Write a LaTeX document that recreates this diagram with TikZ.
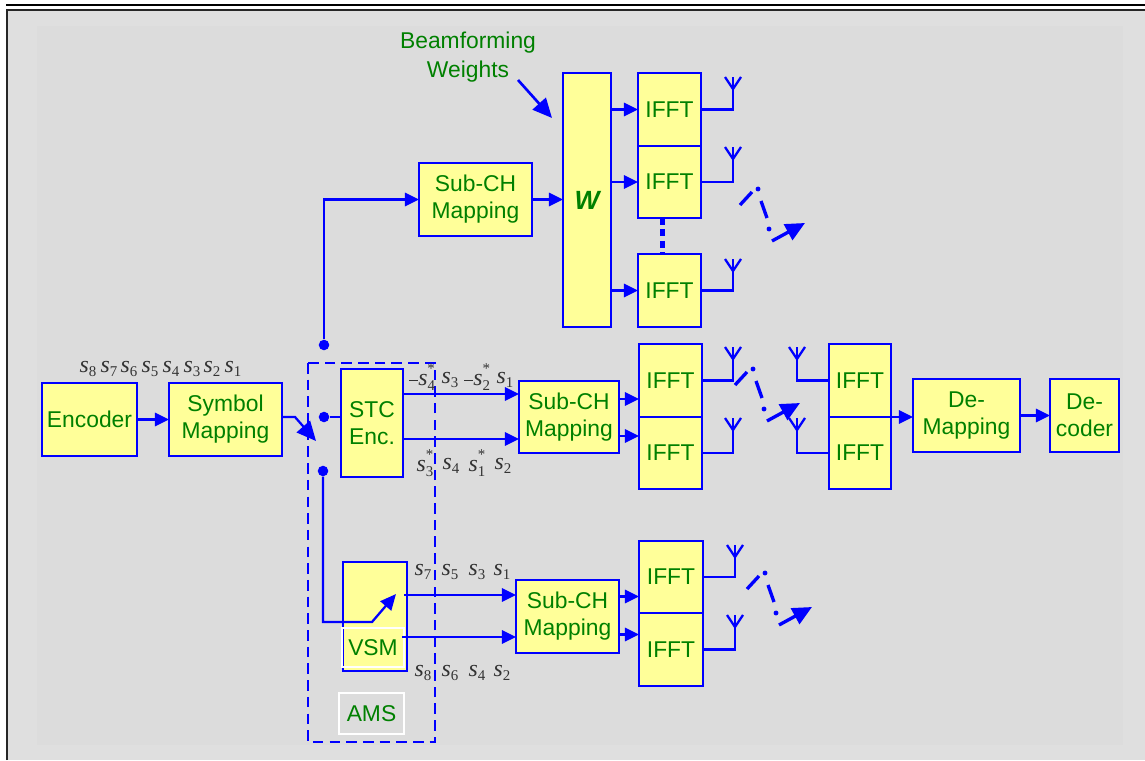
\documentclass[tikz,border=0pt]{standalone}
\usepackage{fontspec}
\setmainfont{Liberation Sans}
\newfontfamily\labfont{Liberation Serif}
\usetikzlibrary{arrows.meta,positioning}

\definecolor{cBlue}{RGB}{0,0,255}
\definecolor{cFill}{RGB}{255,255,153}
\definecolor{cText}{RGB}{0,128,0}
\definecolor{cBack}{RGB}{223,223,223}
\definecolor{cInner}{RGB}{220,220,220}
\newcommand{\boxfont}{\fontsize{13}{15.3}\selectfont}
\newcommand{\subfnt}{\fontsize{8.5}{9}\selectfont\upshape}
\newcommand{\sv}[1]{\textit{s}\raisebox{-2.4pt}{\subfnt #1}}
\newcommand{\svs}[1]{\textit{s}\raisebox{-2.4pt}{\subfnt #1}\kern-4.3pt\raisebox{7pt}{\subfnt *}}
\newcommand{\ms}{\rule[3pt]{5pt}{0.6pt}\kern0.3pt}

\tikzset{
  blk/.style={draw=cBlue, fill=cFill, text=cText, line width=1.2pt, align=center,
    inner sep=0pt, outer sep=0pt, font=\boxfont},
  sz/.style 2 args={minimum width=#1*0.02cm, minimum height=#2*0.02cm},
  wire/.style={cBlue, line width=1.3pt},
  flow/.style={wire, -{Triangle[length=8pt,width=7.5pt]}},
  bigtip/.style={-{Triangle[length=11pt,width=10pt]}},
  sym/.style={text=black!80, font=\labfont\fontsize{13.5}{14}\selectfont, inner sep=0pt},
  tag/.style={draw=white, line width=0.6pt, text=cText, inner sep=0pt, font=\boxfont},
  junc/.style={circle, fill=cBlue, inner sep=0pt, minimum size=6pt},
  ant/.pic={\draw[wire] (-8,0) -- (0,12) -- (8,0);},
  swsym/.pic={
    \draw[wire, line width=1.9pt] (0,0) -- (12,-13) (21,-4) -- (27,13);
    \fill[cBlue] (18,-16) circle (1.4pt) (29,24) circle (1.4pt);
    \draw[wire, line width=1.9pt, bigtip] (32,36) -- (65,18);}
}

\begin{document}
\begin{tikzpicture}[x=0.02cm, y=-0.02cm]
  \useasboundingbox (0,0) rectangle (1145,760);
  \fill[cBack] (7,10) rectangle (1145,760);
  \fill[cInner] (37,26) rectangle (1123,745);
  \draw[black, line width=1pt] (6,5) -- (1145,5);
  \draw[black!85, line width=1.2pt] (7,760) -- (7,10) -- (1145,10);

  % transmitter chain
  \node[blk, sz={95}{73}] (enc) at (89.5,419.5) {Encoder};
  \node[blk, sz={113}{73}] (symmap) at (225.5,419.5) {Symbol\\Mapping};
  \node[blk, sz={62}{108}] (stc) at (372,423) {STC\\Enc.};
  \node[blk, sz={64}{109}] (vsm) at (375,616.5) {};
  \node[tag, sz={62}{39}] (vsmlab) at (373,647.5) {VSM};
  \node[tag, sz={65}{41}] (amslab) at (371.5,713.5) {AMS};
  \draw[cBlue, line width=1.5pt, dash pattern=on 6pt off 3.5pt] (308,363) rectangle (435,742);

  \node[junc] (d1) at (324,345) {};
  \node[junc] (d2) at (324,417) {};
  \node[junc] (d3) at (323,471) {};

  \node[blk, sz={113}{73}] (subA) at (475.5,199.5) {Sub-CH\\Mapping};
  \node[blk, sz={48}{254}, font=\fontsize{15}{16}\selectfont\bfseries\itshape] (W) at (587,200) {W};
  \node[blk, sz={63}{73}] (ifa) at (669.5,109.5) {IFFT};
  \node[blk, sz={63}{72}, below=0pt of ifa] (ifb) {IFFT};
  \node[blk, sz={63}{73}] (ifc) at (669.5,290.5) {IFFT};
  \node[text=cText, align=center, inner sep=0pt, font=\fontsize{13}{16.4}\selectfont] (bfw) at (468,57) {Beamforming\\Weights};

  \node[blk, sz={100}{72}] (subB) at (569,417) {Sub-CH\\Mapping};
  \node[blk, sz={63}{73}] (ifmA) at (670.5,380.5) {IFFT};
  \node[blk, sz={63}{72}, below=0pt of ifmA] (ifmB) {IFFT};

  \node[blk, sz={103}{73}] (subC) at (567.5,616.5) {Sub-CH\\Mapping};
  \node[blk, sz={64}{72}] (iflA) at (671,577) {IFFT};
  \node[blk, sz={64}{73}, below=0pt of iflA] (iflB) {IFFT};

  % receiver chain
  \node[blk, sz={62}{73}] (rxA) at (860,380.5) {IFFT};
  \node[blk, sz={62}{72}, below=0pt of rxA] (rxB) {IFFT};
  \node[blk, sz={107}{73}] (demap) at (966.5,415.5) {De-\\Mapping};
  \node[blk, sz={69}{73}] (dec) at (1084.5,415.5) {De-\\coder};

  % symbol labels
  \node[sym] (a8) at (88,369) {\sv{8}};
  \node[sym] (a7) at (109,369) {\sv{7}};
  \node[sym] (a6) at (129,369) {\sv{6}};
  \node[sym] (a5) at (150,369) {\sv{5}};
  \node[sym] (a4) at (171,369) {\sv{4}};
  \node[sym] (a3) at (192,369) {\sv{3}};
  \node[sym] (a2) at (212,369) {\sv{2}};
  \node[sym] (a1) at (233,369) {\sv{1}};
  \node[sym] (b1) at (422,377) {\ms\svs{4}};
  \node[sym] (b2) at (450,380) {\sv{3}};
  \node[sym] (b3) at (477,377) {\ms\svs{2}};
  \node[sym] (b4) at (505,380) {\sv{1}};
  \node[sym] (c1) at (425,463) {\svs{3}};
  \node[sym] (c2) at (451,466) {\sv{4}};
  \node[sym] (c3) at (477,463) {\svs{1}};
  \node[sym] (c4) at (503,466) {\sv{2}};
  \node[sym] (e1) at (423,572) {\sv{7}};
  \node[sym] (e2) at (450,572) {\sv{5}};
  \node[sym] (e3) at (477,572) {\sv{3}};
  \node[sym] (e4) at (502,572) {\sv{1}};
  \node[sym] (f1) at (423,673) {\sv{8}};
  \node[sym] (f2) at (450,673) {\sv{6}};
  \node[sym] (f3) at (477,673) {\sv{4}};
  \node[sym] (f4) at (502,673) {\sv{2}};

  \coordinate (swt) at (316,441);
  \coordinate (vsw) at (372,622);
  \coordinate (vswe) at (396,594);
  \coordinate (so1) at (403,394);
  \coordinate (so2) at (403,439);
  \coordinate (vo1) at (404,595);
  \coordinate (vo2) at (402,637);
  \coordinate (bfs) at (518,80);
  \coordinate (bfe) at (552,118);

  \draw[flow] (enc) -- (symmap);
  \draw[wire, bigtip] (symmap.east |- d2) -- ++(13,0) -- (swt);
  \draw[flow] (d1) |- (subA.west);
  \draw[wire] (d2) -- (d2 -| stc.west);
  \draw[wire, -{Triangle[length=9pt,width=8pt]}] (d3) |- (vsw) -- (vswe);
  \draw[wire, line width=1.5pt, bigtip] (bfs) -- (bfe);

  \draw[flow] (subA.east) -- (subA.east -| W.west);
  \draw[flow] (W.east |- ifa.west) -- (ifa.west);
  \draw[flow] (W.east |- ifb.west) -- (ifb.west);
  \draw[flow] (W.east |- ifc.west) -- (ifc.west);
  \draw[cBlue, line width=2.6pt, dash pattern=on 4pt off 2.5pt] ([xshift=-7*0.02cm]ifb.south) -- ([xshift=-7*0.02cm]ifc.north);

  \draw[flow] (so1) -- (so1 -| subB.west);
  \draw[flow] (so2) -- (so2 -| subB.west);
  \draw[flow] (subB.east) ++(0,-18) -- ++(20,0);
  \draw[flow] (subB.east) ++(0,19) -- ++(20,0);

  \draw[flow] (vo1) -- (vo1 -| subC.west);
  \draw[flow] (vo2) -- (vo2 -| subC.west);
  \draw[flow] (subC.east) ++(0,-20) -- ++(20,0);
  \draw[flow] (subC.east) ++(0,18) -- ++(20,0);

  \draw[flow] (rxA.south east) -- (rxA.south east -| demap.west);
  \draw[flow] (demap.east) -- (dec.west);

  % antennas
  \draw[wire] (ifa.east) -| (733,77) pic {ant};
  \draw[wire] (ifb.east) -| (733,147) pic {ant};
  \draw[wire] (ifc.east) -| (733,259) pic {ant};
  \draw[wire] (ifmA.east) -| (733,347) pic {ant};
  \draw[wire] (ifmB.east) -| (733,418) pic {ant};
  \draw[wire] (iflA.east) -| (735,545) pic {ant};
  \draw[wire] (iflB.east) -| (735,615) pic {ant};
  \draw[wire] (rxA.west) -| (797,347) pic {ant};
  \draw[wire] (rxB.west) -| (797,418) pic {ant};

  \pic at (740,205) {swsym};
  \pic at (735,385) {swsym};
  \pic at (747,589) {swsym};
\end{tikzpicture}
\end{document}
